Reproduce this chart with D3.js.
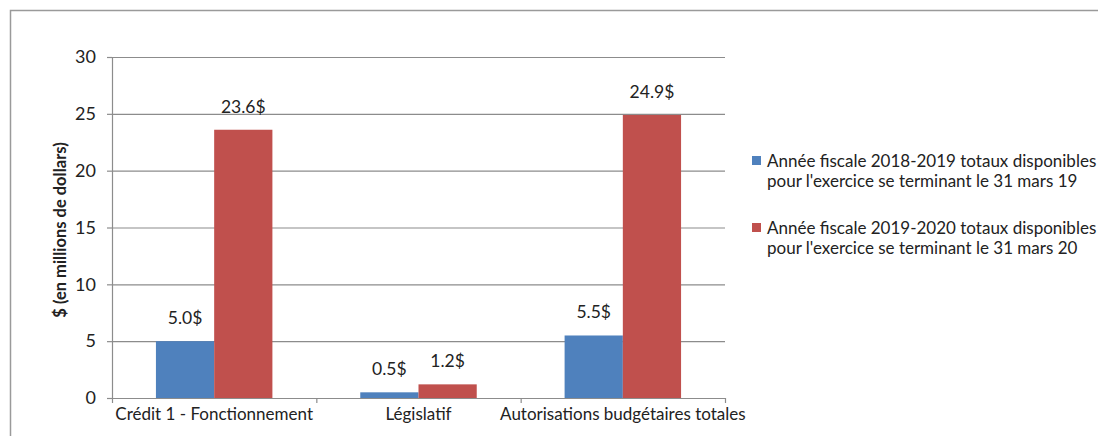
<!DOCTYPE html>
<html><head><meta charset="utf-8">
<script src="https://cdn.jsdelivr.net/npm/d3@7"></script>
<style>
body{margin:0;background:#fff;}
text{font-family:Lato,"Open Sans",sans-serif;fill:#222;}
</style></head>
<body><svg id="c" width="1098" height="436"></svg>
<script>
const categories = ["Crédit 1 - Fonctionnement", "Législatif", "Autorisations budgétaires totales"];
const series = ["Année fiscale 2018-2019 totaux disponibles pour l'exercice se terminant le 31 mars 19",
                "Année fiscale 2019-2020 totaux disponibles pour l'exercice se terminant le 31 mars 20"];
const legendLines = [["Année fiscale 2018-2019 totaux disponibles", "pour l'exercice se terminant le 31 mars 19"],
                     ["Année fiscale 2019-2020 totaux disponibles", "pour l'exercice se terminant le 31 mars 20"]];
const values2019 = [5.0, 0.5, 5.5];
const values2020 = [23.6, 1.2, 24.9];
const yTicks = [0, 5, 10, 15, 20, 25, 30];
const colors = ["#4F81BD", "#C0504D"];

const svg = d3.select("#c");
// frame
svg.append("path").attr("d", "M10.5,436 V10.5 H1098").attr("fill","none").attr("stroke","#9a9a9a").attr("stroke-width",1.5);

const m = {left:112, right:725, top:57, bottom:398};
const x = d3.scaleBand().domain(categories).range([m.left, m.right]).paddingInner(0.43).paddingOuter(0.215);
const xs = d3.scaleBand().domain([0,1]).range([0, x.bandwidth()]);
const y = d3.scaleLinear().domain([0,30]).range([m.bottom, m.top]);

// gridlines
svg.append("g").selectAll("line").data(yTicks.filter(d=>d>0)).join("line")
  .attr("x1", m.left).attr("x2", m.right).attr("y1", d=>y(d)+0.5).attr("y2", d=>y(d)+0.5)
  .attr("stroke","#8c8c8c").attr("stroke-width",1.2);

// bars
const data = categories.map((c,i)=>({c, v:[values2019[i], values2020[i]]}));
const g = svg.append("g");
data.forEach(d=>{
  d.v.forEach((v,j)=>{
    g.append("rect").attr("x", x(d.c)+xs(j)).attr("width", xs.bandwidth())
      .attr("y", y(v)).attr("height", y(0)-y(v)).attr("fill", colors[j]);
    g.append("text").attr("x", x(d.c)+xs(j)+xs.bandwidth()/2).attr("y", y(v)-17)
      .attr("text-anchor","middle").attr("font-size",17.5).text(v.toFixed(1)+"$");
  });
});

// y axis
const ya = svg.append("g").attr("transform", `translate(${m.left},0)`)
  .call(d3.axisLeft(y).tickValues(yTicks).tickSize(5).tickPadding(11).tickFormat(d3.format("d")));
ya.select(".domain").attr("stroke","#8c8c8c").attr("stroke-width",1.2).attr("d", `M0.5,${m.top}V${m.bottom}`);
ya.selectAll(".tick line").attr("stroke","#8c8c8c").attr("stroke-width",1.2);
ya.selectAll(".tick text").attr("font-size",18).attr("font-family","Lato").attr("fill","#222");

// x axis
const xa = svg.append("g").attr("transform", `translate(0,${m.bottom})`)
  .call(d3.axisBottom(x).tickSize(0).tickPadding(10));
xa.select(".domain").attr("stroke","#8c8c8c").attr("stroke-width",1.2);
xa.selectAll(".tick text").attr("font-size",17).attr("font-family","Lato").attr("fill","#222");
// category boundary ticks
const bounds = [m.left, ...categories.slice(1).map(c=>x(c)-x.step()*x.paddingInner()/2), m.right];
xa.append("g").selectAll("line").data(bounds).join("line")
  .attr("x1", d=>d+0.5).attr("x2", d=>d+0.5).attr("y1",0).attr("y2",5)
  .attr("stroke","#8c8c8c").attr("stroke-width",1.2);

// y title
svg.append("text").attr("transform","translate(66,230) rotate(-90)")
  .attr("text-anchor","middle").attr("font-size",16.5).attr("font-weight","bold").text("$ (en millions de dollars)");

// legend
const lg = svg.append("g");
const legY = [161, 228];
legendLines.forEach((lines,i)=>{
  lg.append("rect").attr("x",752).attr("y",legY[i]-5).attr("width",9).attr("height",9).attr("fill",colors[i]);
  lines.forEach((t,k)=>{
    lg.append("text").attr("x",767).attr("y",legY[i]+6+k*20).attr("font-size",17).text(t);
  });
});
</script></body></html>
